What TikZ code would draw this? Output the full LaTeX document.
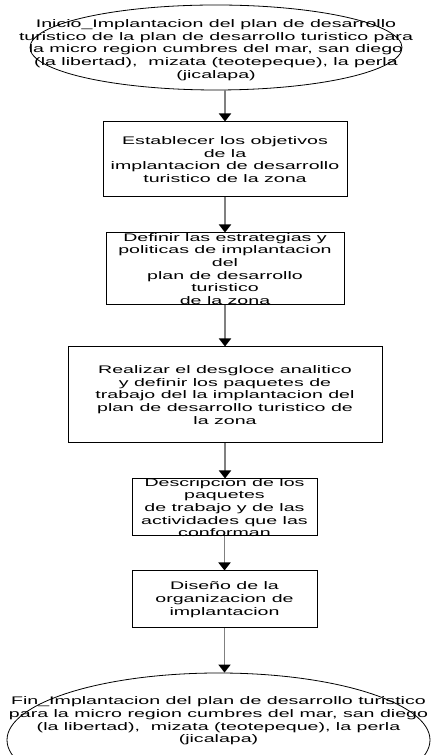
\documentclass[tikz,border=0pt]{standalone}
\usepackage{fontspec}
\setmainfont[FakeStretch=1.78]{Liberation Sans}
\usepackage{tikz}
\usetikzlibrary{arrows.meta, shapes.geometric}

\tikzset{
  paso/.style={draw=black, line width=1pt, rectangle, inner sep=0pt},
  limite/.style={draw=black, line width=0.8pt, ellipse, inner sep=0pt},
  texto/.style={align=center, font=\fontsize{11}{12.7}\selectfont, inner sep=0pt},
  flecha/.style={draw=gray, line width=1.8pt, -{Triangle[width=12pt,length=8pt,color=black]}}
}

\begin{document}
\begin{tikzpicture}[x=1pt, y=1pt]
  \useasboundingbox (0,0) rectangle (431,755);
  \clip (0,0) rectangle (431,755);

  % inicio
  \node[limite, minimum width=372pt, minimum height=85pt] (inicio) at (216,707.5) {};
  \node[texto] (tinicio) at (216,705) {Inicio\_Implantacion del plan de desarrollo\\
    turistico de la plan de desarrollo turistico para\\
    la micro region cumbres del mar, san diego\\
    (la libertad),\ \ mizata (teotepeque), la perla\\
    (jicalapa)};

  % pasos
  \node[paso, minimum width=244pt, minimum height=75pt] (objetivos) at (225,595.5) {};
  \node[texto] (tobjetivos) at (objetivos) {Establecer los objetivos\\de la\\
    implantacion de desarrollo\\turistico de la zona};

  \node[paso, minimum width=238pt, minimum height=72pt] (estrategias) at (225,486) {};
  \node[texto] (testrategias) at (estrategias) {Definir las estrategias y\\
    politicas de implantacion\\del\\plan de desarrollo\\turistico\\de la zona};

  \node[paso, minimum width=314pt, minimum height=96pt] (desgloce) at (225,360) {};
  \node[texto] (tdesgloce) at (desgloce) {Realizar el desgloce analitico\\
    y definir los paquetes de\\trabajo del la implantacion del\\
    plan de desarrollo turistico de\\la zona};

  \node[paso, minimum width=185pt, minimum height=57pt] (paquetes) at (224.5,247.5) {};
  \node[texto] (tpaquetes) at (paquetes) {Descripcion de los\\paquetes\\
    de trabajo y de las\\actividades que las\\conforman};

  \node[paso, minimum width=185pt, minimum height=57pt] (organizacion) at (224.5,155.5) {};
  \node[texto] (torganizacion) at (organizacion) {Diseño de la\\organizacion de\\implantacion};

  % fin
  \node[limite, minimum width=423pt, minimum height=134pt] (fin) at (218.5,15) {};
  \node[texto] (tfin) at (218.5,34) {Fin\_Implantacion del plan de desarrollo turistico\\
    para la micro region cumbres del mar, san diego\\
    (la libertad),\ \ mizata (teotepeque), la perla\\
    (jicalapa)};

  % flechas
  \draw[flecha] (inicio.south -| objetivos.north) -- (objetivos.north);
  \draw[flecha] (objetivos.south) -- (estrategias.north);
  \draw[flecha] (estrategias.south) -- (desgloce.north);
  \draw[flecha] (desgloce.south) -- (paquetes.north -| desgloce.south);
  \draw[flecha] (paquetes.south) -- (organizacion.north);
  \draw[flecha] (organizacion.south) -- (organizacion.south |- fin.north);
\end{tikzpicture}
\end{document}
